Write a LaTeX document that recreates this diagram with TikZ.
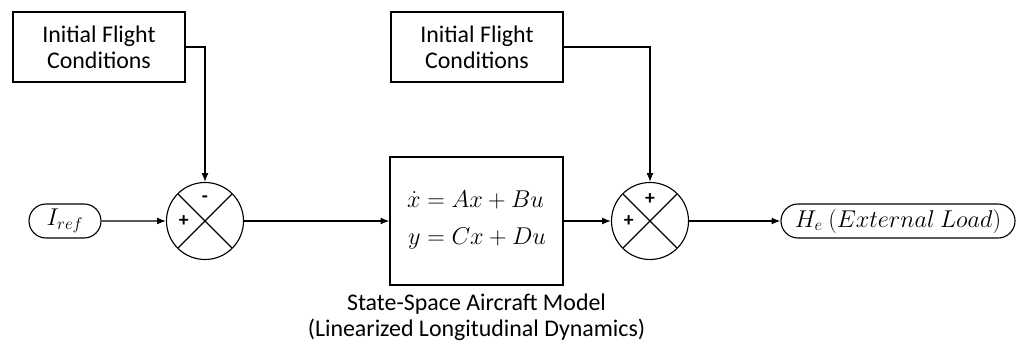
\documentclass[tikz,border=0pt]{standalone}
\usepackage{amsmath}
\usepackage{fontspec}
\setmainfont{Carlito}
\usetikzlibrary{arrows.meta, shapes.misc}

\tikzset{
  block/.style={draw, thick, align=center, inner sep=0pt},
  sumjct/.style={draw, thick, circle, minimum size=1.925cm, inner sep=0pt,
    path picture={
      \draw[thick] (path picture bounding box.north west) -- (path picture bounding box.south east);
      \draw[thick] (path picture bounding box.north east) -- (path picture bounding box.south west);}},
  terminal/.style={draw, thick, rounded rectangle, minimum height=0.85cm, inner sep=0pt},
  sign/.style={font=\fontsize{14}{16}\selectfont\bfseries},
  sig/.style={-{Latex[length=2.2mm, width=1.7mm]}, thick}
}

\begin{document}
\begin{tikzpicture}[every node/.style={font=\fontsize{17}{18.5}\selectfont}]
  \useasboundingbox (0,0) rectangle (25.5,8.725);
  % top boxes
  \node[block, minimum width=4.3cm, minimum height=1.75cm] (ifcA) at (2.475,7.55)
    {Initial Flight\\Conditions};
  \node[block, minimum width=4.3cm, minimum height=1.75cm] (ifcB) at (11.925,7.55)
    {Initial Flight\\Conditions};
  % main row
  \node[terminal, minimum width=1.8cm] (iref) at (1.625,3.2) {$I_{ref}$};
  \node[sumjct] (sumA) at (5.125,3.2) {};
  \node[block, minimum width=4.325cm, minimum height=3.2cm] (model) at (11.9125,3.2)
    {$\begin{aligned}\dot{x} &= Ax + Bu\\[5pt] y &= Cx + Du\end{aligned}$};
  \node[sumjct] (sumB) at (16.25,3.2) {};
  \node[terminal, minimum width=5.85cm] (load) at (22.45,3.2)
    {$H_e\ (External\ Load)$};
  \node[anchor=north, align=center] (mlabel) at (11.9125,1.5)
    {State-Space Aircraft Model\\(Linearized Longitudinal Dynamics)};
  % signs
  \node[sign] (sA1) at ([yshift=0.55cm]sumA.center) {-};
  \node[sign] (sA2) at ([xshift=-0.53cm]sumA.center) {+};
  \node[sign] (sB1) at ([yshift=0.55cm]sumB.center) {+};
  \node[sign] (sB2) at ([xshift=-0.53cm]sumB.center) {+};
  % connections
  \draw[sig] (ifcA.east) -| (sumA.north);
  \draw[sig] (ifcB.east) -| (sumB.north);
  \draw[sig] (iref) -- (sumA);
  \draw[sig] (sumA) -- (model);
  \draw[sig] (model) -- (sumB);
  \draw[sig] (sumB) -- (load);
\end{tikzpicture}
\end{document}
